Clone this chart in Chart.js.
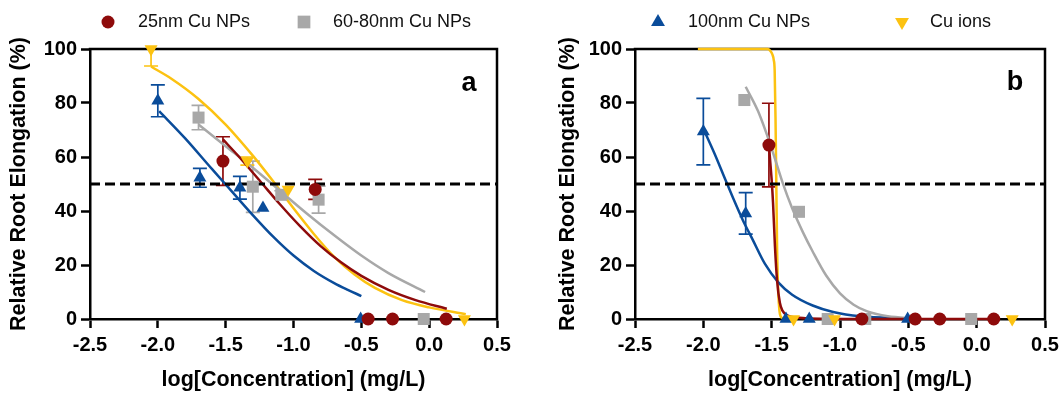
<!DOCTYPE html>
<html>
<head>
<meta charset="utf-8">
<script src="https://cdn.jsdelivr.net/npm/chart.js@4.4.1/dist/chart.umd.min.js"></script>
<style>
html, body { margin: 0; padding: 0; background: #fff; overflow: hidden; }
body { position: relative; width: 1060px; height: 393px; }
#wa { position: absolute; left: 0; top: 0; width: 530px; height: 393px; }
#wb { position: absolute; left: 530px; top: 0; width: 545px; height: 393px; }
canvas { display: block; }
</style>
</head>
<body>
<div id="wa"><canvas id="ca" width="530" height="393"></canvas></div>
<div id="wb"><canvas id="cb" width="545" height="393"></canvas></div>
<script>
// ---------- data ----------
const seriesNames = ['25nm Cu NPs', '60-80nm Cu NPs', '100nm Cu NPs', 'Cu ions'];
const xTicks = [-2.5, -2.0, -1.5, -1.0, -0.5, 0.0, 0.5];
const xTickLabels = ['-2.5', '-2.0', '-1.5', '-1.0', '-0.5', '0.0', '0.5'];
const yTicks = [0, 20, 40, 60, 80, 100];
const yTickLabels = ['0', '20', '40', '60', '80', '100'];
const halfResponse = 50;

// measured points, log[concentration]
const x25 = [-1.52, -0.84, -0.45, -0.27, 0.125];
const x6080 = [-1.70, -1.30, -1.09, -0.815, -0.04];
const x100 = [-2.00, -1.69, -1.395, -1.225, -0.505];
const xIonA = [-2.05, -1.34, -1.04, 0.26];
const xIonB = [-1.34, -1.04, 0.26];

// panel a values and error bars
const y25a = [58.5, 48, 0, 0, 0];
const e25a = [9, 3.7, 0, 0, 0];
const y6080a = [74.6, 49, 46, 44.2, 0];
const e6080a = [4.5, 9.5, 1.5, 5, 0];
const y100a = [80.8, 52.3, 48.6, 41.1, 0];
const e100a = [5.9, 3.5, 4.2, 0, 0];
const yIonA = [100, 58.5, 48, 0];
const eIonA = [6.3, 1.5, 0, 0];

// panel b values and error bars
const y25b = [64.4, 0, 0, 0, 0];
const e25b = [15.5, 0, 0, 0, 0];
const y6080b = [81.1, 39.7, 0, 0, 0];
const e6080b = [0, 0, 0, 0, 0];
const y100b = [69.4, 39.1, 0, 0, 0];
const e100b = [12.3, 7.7, 0, 0, 0];
const yIonB = [0, 0, 0];
const eIonB = [0, 0, 0];

// fitted curves, panel a
const fit25aX = [-1.52, -1.40, -1.25, -1.10, -0.95, -0.80, -0.65, -0.50, -0.30, -0.10, 0.13];
const fit25aY = [66.5, 60, 51.3, 42.5, 34.3, 27, 21, 16, 10.8, 7, 3.8];
const fit6080aX = [-1.70, -1.50, -1.30, -1.10, -0.90, -0.70, -0.50, -0.30, -0.03];
const fit6080aY = [72, 64, 56, 47.5, 39, 31, 23.5, 17, 10];
const fit100aX = [-1.99, -1.80, -1.60, -1.45, -1.30, -1.15, -1.00, -0.85, -0.70, -0.60, -0.50];
const fit100aY = [77, 67, 55.5, 47, 38.5, 30.5, 23.5, 17.8, 13.3, 10.8, 8.5];
const fitIonAX = [-2.05, -1.90, -1.70, -1.50, -1.30, -1.15, -1.00, -0.85, -0.70, -0.55, -0.40, -0.20, 0.00, 0.27];
const fitIonAY = [93.5, 89, 81.5, 72, 60.5, 51, 41, 31.5, 23, 16.5, 11.5, 7, 4.3, 1.8];

// fitted curves, panel b
const fit25bX = [-1.52, -1.51, -1.50, -1.49, -1.476, -1.46, -1.44, -1.42, -1.39, -1.30, -1.10, -0.80, -0.40, 0.13];
const fit25bY = [64.4, 58, 51.5, 43, 27, 14, 6, 3, 1.5, 0.5, 0.1, 0, 0, 0];
const fit6080bX = [-1.69, -1.60, -1.54, -1.48, -1.42, -1.35, -1.27, -1.20, -1.10, -1.00, -0.90, -0.80, -0.65, -0.45];
const fit6080bY = [86, 77, 69, 60, 50.5, 41, 32, 25, 16, 9.5, 5.3, 2.8, 1, 0.2];
const fit100bX = [-1.99, -1.92, -1.85, -1.78, -1.71, -1.64, -1.55, -1.45, -1.35, -1.20, -1.05, -0.85, -0.50];
const fit100bY = [69.4, 61.5, 53, 44.5, 36.5, 29.5, 20.5, 13.5, 9, 5, 2.6, 1, 0.2];
const fitIonBX = [-2.04, -1.53, -1.51, -1.495, -1.485, -1.478, -1.472, -1.466, -1.460, -1.452, -1.444, -1.435, -1.42];
const fitIonBY = [100, 100, 99.3, 98, 96, 92, 75, 50, 25, 10, 3.5, 1, 0.3];

// ---------- styles ----------
const FONT = "'Liberation Sans', Arial, Helvetica, sans-serif";
const STYLE = {
  c25:   { color: '#8e0b0b', pointStyle: 'circle',   radius: 6.5, rotation: 0 },
  c6080: { color: '#a8a8a8', pointStyle: 'rect',     radius: 8.5, rotation: 0 },
  c100:  { color: '#0a4c9a', pointStyle: 'triangle', radius: 7.5, rotation: 0 },
  ion:   { color: '#fcc211', pointStyle: 'triangle', radius: 7.5, rotation: 180 }
};

const pts = (xs, ys) => xs.map((x, i) => ({ x: x, y: ys[i] }));

function curve(label, xs, ys, st) {
  return {
    label: label + ' fit', data: pts(xs, ys), showLine: true,
    borderColor: st.color, backgroundColor: st.color, borderWidth: 2.5,
    pointRadius: 0, pointHoverRadius: 0, cubicInterpolationMode: 'monotone',
    order: 3, clip: false
  };
}
function markers(label, xs, ys, errs, st, order) {
  return {
    label: label, data: pts(xs, ys), showLine: false,
    pointStyle: st.pointStyle, pointRadius: st.radius, pointHoverRadius: st.radius,
    pointRotation: st.rotation, pointBackgroundColor: st.color, pointBorderColor: st.color,
    pointBorderWidth: 0, backgroundColor: st.color, borderColor: st.color,
    order: order, clip: false, errorBars: errs, markerStyle: st
  };
}
function halfLine() {
  return {
    label: 'half', data: pts([xTicks[0], xTicks[xTicks.length - 1]], [halfResponse, halfResponse]),
    showLine: true, borderColor: '#000', borderWidth: 3, borderDash: [10, 5],
    pointRadius: 0, pointHoverRadius: 0, tension: 0, order: 2
  };
}

// ---------- plugins ----------
const framePlugin = {
  id: 'frame',
  beforeDatasetsDraw(chart) {
    const ctx = chart.ctx, a = chart.chartArea;
    ctx.save();
    ctx.strokeStyle = '#000'; ctx.lineWidth = 2.5; ctx.lineCap = 'square';
    ctx.beginPath();
    ctx.moveTo(a.left, a.top); ctx.lineTo(a.right, a.top); ctx.lineTo(a.right, a.bottom);
    ctx.stroke();
    ctx.restore();
  }
};
const errorBarPlugin = {
  id: 'errorBars',
  beforeDatasetsDraw(chart) {
    const ctx = chart.ctx, ya = chart.scales.y, a = chart.chartArea;
    ctx.save();
    ctx.beginPath(); ctx.rect(a.left, a.top, a.right - a.left, a.bottom - a.top); ctx.clip();
    chart.data.datasets.forEach((ds, di) => {
      if (!ds.errorBars) return;
      const meta = chart.getDatasetMeta(di);
      ctx.strokeStyle = ds.borderColor; ctx.lineWidth = 1.7;
      ds.data.forEach((p, i) => {
        const e = ds.errorBars[i];
        if (!e) return;
        const x = meta.data[i].x;
        const yt = ya.getPixelForValue(p.y + e), yb = ya.getPixelForValue(p.y - e);
        ctx.beginPath();
        ctx.moveTo(x, yt); ctx.lineTo(x, yb);
        ctx.moveTo(x - 7, yt); ctx.lineTo(x + 7, yt);
        ctx.moveTo(x - 7, yb); ctx.lineTo(x + 7, yb);
        ctx.stroke();
      });
    });
    ctx.restore();
  }
};
function annotPlugin(cfg) {
  return {
    id: 'annot',
    afterDraw(chart) {
      const ctx = chart.ctx;
      ctx.save();
      ctx.fillStyle = '#000';
      ctx.font = 'bold 27px ' + FONT;
      ctx.textAlign = 'center'; ctx.textBaseline = 'alphabetic';
      ctx.fillText(cfg.panel, cfg.panelX, cfg.panelY);
      ctx.font = '18px ' + FONT;
      ctx.textAlign = 'left'; ctx.textBaseline = 'middle';
      cfg.legend.forEach(it => {
        const ds = chart.data.datasets[it.dataset];
        const st = ds.markerStyle;
        ctx.fillStyle = st.color;
        Chart.helpers.drawPoint(ctx, { pointStyle: st.pointStyle, radius: it.r, rotation: st.rotation, borderWidth: 0 }, it.mx, cfg.legendY);
        ctx.fillStyle = '#111';
        ctx.fillText(ds.label, it.tx, cfg.legendY);
      });
      ctx.restore();
    }
  };
}

function makeScales(yWidth) {
  const tickFont = { family: FONT, size: 20, weight: 'bold' };
  const titleFont = { family: FONT, size: 21.5, weight: 'bold' };
  const grid = { drawOnChartArea: false, drawTicks: true, tickLength: 9, tickWidth: 2.5, tickColor: '#000', color: '#000' };
  const border = { display: true, color: '#000', width: 2.5 };
  return {
    x: {
      type: 'linear', min: xTicks[0], max: xTicks[xTicks.length - 1],
      afterBuildTicks: s => { s.ticks = xTicks.map(v => ({ value: v })); },
      afterFit: s => { s.height = 74; },
      ticks: { color: '#000', font: tickFont, padding: 5, maxRotation: 0, autoSkip: false, callback: (v, i) => xTickLabels[i] },
      grid: grid, border: border,
      title: { display: true, text: 'log[Concentration] (mg/L)', color: '#000', font: titleFont, padding: { top: 0, bottom: 0 } }
    },
    y: {
      type: 'linear', min: yTicks[0], max: yTicks[yTicks.length - 1],
      afterBuildTicks: s => { s.ticks = yTicks.map(v => ({ value: v })); },
      afterFit: s => { s.width = yWidth; },
      ticks: { color: '#000', font: tickFont, padding: 4, callback: (v, i) => yTickLabels[i] },
      grid: grid, border: border,
      title: { display: true, text: 'Relative Root Elongation (%)', color: '#000', font: titleFont, padding: { top: 0, bottom: 0 } }
    }
  };
}

function makeChart(canvasId, datasets, padding, yWidth, annot) {
  return new Chart(document.getElementById(canvasId), {
    type: 'scatter',
    data: { datasets: datasets },
    options: {
      responsive: false, animation: false, events: [],
      layout: { padding: padding },
      plugins: { legend: { display: false }, tooltip: { enabled: false } },
      scales: makeScales(yWidth)
    },
    plugins: [framePlugin, errorBarPlugin, annotPlugin(annot)]
  });
}

// ---------- panel a ----------
makeChart('ca', [
  markers(seriesNames[0], x25, y25a, e25a, STYLE.c25, 1.1),
  markers(seriesNames[1], x6080, y6080a, e6080a, STYLE.c6080, 1.3),
  markers(seriesNames[2], x100, y100a, e100a, STYLE.c100, 1.4),
  markers(seriesNames[3], xIonA, yIonA, eIonA, STYLE.ion, 1.2),
  halfLine(),
  curve(seriesNames[0], fit25aX, fit25aY, STYLE.c25),
  curve(seriesNames[1], fit6080aX, fit6080aY, STYLE.c6080),
  curve(seriesNames[2], fit100aX, fit100aY, STYLE.c100),
  curve(seriesNames[3], fitIonAX, fitIonAY, STYLE.ion)
], { left: 6, right: 33, top: 49, bottom: 0 }, 84, {
  panel: 'a', panelX: 469, panelY: 91, legendY: 22,
  legend: [ { dataset: 0, mx: 108, tx: 138, r: 6.5 }, { dataset: 1, mx: 304, tx: 333, r: 9 } ]
});

// ---------- panel b ----------
makeChart('cb', [
  markers(seriesNames[0], x25, y25b, e25b, STYLE.c25, 1.1),
  markers(seriesNames[1], x6080, y6080b, e6080b, STYLE.c6080, 1.3),
  markers(seriesNames[2], x100, y100b, e100b, STYLE.c100, 1.4),
  markers(seriesNames[3], xIonB, yIonB, eIonB, STYLE.ion, 1.2),
  halfLine(),
  curve(seriesNames[0], fit25bX, fit25bY, STYLE.c25),
  curve(seriesNames[1], fit6080bX, fit6080bY, STYLE.c6080),
  curve(seriesNames[2], fit100bX, fit100bY, STYLE.c100),
  curve(seriesNames[3], fitIonBX, fitIonBY, STYLE.ion)
], { left: 25, right: 30, top: 49, bottom: 0 }, 80, {
  panel: 'b', panelX: 485, panelY: 90, legendY: 22,
  legend: [ { dataset: 2, mx: 128, tx: 158, r: 8 }, { dataset: 3, mx: 372, tx: 400, r: 8 } ]
});
</script>
</body>
</html>
